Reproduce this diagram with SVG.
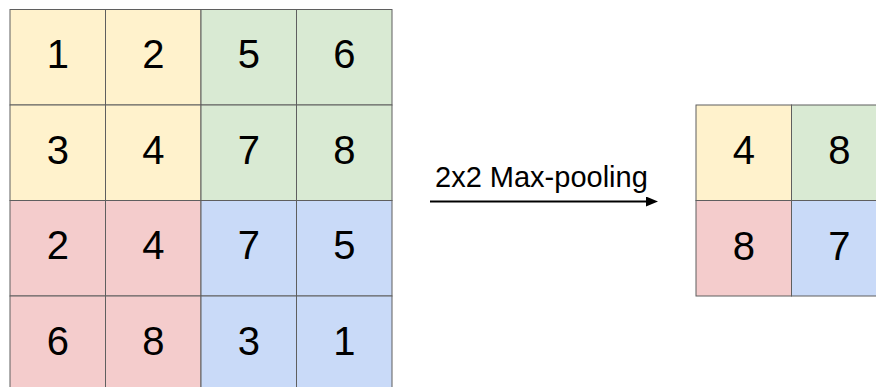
<svg xmlns="http://www.w3.org/2000/svg" width="876" height="387" viewBox="0 0 876 387">
<defs>
<style>
.c{stroke:#5f5f5f;stroke-width:1}
.y{fill:#fff2cc}.g{fill:#d9ead3}.r{fill:#f4cccc}.b{fill:#c9daf8}
.t{font-family:"Liberation Sans",Arial,sans-serif;font-size:40px;fill:#000;text-anchor:middle}
.lbl{font-family:"Liberation Sans",Arial,sans-serif;font-size:29px;fill:#000}
</style>
<marker id="ah" markerWidth="12" markerHeight="10" refX="0" refY="5" orient="auto" markerUnits="userSpaceOnUse">
<polygon points="0,0 12,5 0,10" fill="#000"/>
</marker>
</defs>
<rect width="876" height="387" fill="#fff"/>
<g id="input-grid">
<g id="cell-1"><rect class="c y" x="10" y="9.5" width="95.5" height="95.5"/><text class="t" x="57.75" y="68">1</text></g>
<g id="cell-2"><rect class="c y" x="105.5" y="9.5" width="95.5" height="95.5"/><text class="t" x="153.25" y="68">2</text></g>
<g id="cell-5"><rect class="c g" x="201" y="9.5" width="95.5" height="95.5"/><text class="t" x="248.75" y="68">5</text></g>
<g id="cell-6"><rect class="c g" x="296.5" y="9.5" width="95.5" height="95.5"/><text class="t" x="344.25" y="68">6</text></g>
<g id="cell-3"><rect class="c y" x="10" y="105" width="95.5" height="95.5"/><text class="t" x="57.75" y="163.5">3</text></g>
<g id="cell-4"><rect class="c y" x="105.5" y="105" width="95.5" height="95.5"/><text class="t" x="153.25" y="163.5">4</text></g>
<g id="cell-7"><rect class="c g" x="201" y="105" width="95.5" height="95.5"/><text class="t" x="248.75" y="163.5">7</text></g>
<g id="cell-8"><rect class="c g" x="296.5" y="105" width="95.5" height="95.5"/><text class="t" x="344.25" y="163.5">8</text></g>
<g id="cell-2b"><rect class="c r" x="10" y="200.5" width="95.5" height="95.5"/><text class="t" x="57.75" y="259">2</text></g>
<g id="cell-4b"><rect class="c r" x="105.5" y="200.5" width="95.5" height="95.5"/><text class="t" x="153.25" y="259">4</text></g>
<g id="cell-7b"><rect class="c b" x="201" y="200.5" width="95.5" height="95.5"/><text class="t" x="248.75" y="259">7</text></g>
<g id="cell-5b"><rect class="c b" x="296.5" y="200.5" width="95.5" height="95.5"/><text class="t" x="344.25" y="259">5</text></g>
<g id="cell-6b"><rect class="c r" x="10" y="296" width="95.5" height="95.5"/><text class="t" x="57.75" y="354.5">6</text></g>
<g id="cell-8b"><rect class="c r" x="105.5" y="296" width="95.5" height="95.5"/><text class="t" x="153.25" y="354.5">8</text></g>
<g id="cell-3b"><rect class="c b" x="201" y="296" width="95.5" height="95.5"/><text class="t" x="248.75" y="354.5">3</text></g>
<g id="cell-1b"><rect class="c b" x="296.5" y="296" width="95.5" height="95.5"/><text class="t" x="344.25" y="354.5">1</text></g>
</g>
<g id="output-grid">
<g id="out-4"><rect class="c y" x="696" y="105" width="95.5" height="95.5"/><text class="t" x="743.75" y="164">4</text></g>
<g id="out-8"><rect class="c g" x="791.5" y="105" width="95.5" height="95.5"/><text class="t" x="839.25" y="164">8</text></g>
<g id="out-8b"><rect class="c r" x="696" y="200.5" width="95.5" height="95.5"/><text class="t" x="743.75" y="259.5">8</text></g>
<g id="out-7"><rect class="c b" x="791.5" y="200.5" width="95.5" height="95.5"/><text class="t" x="839.25" y="259.5">7</text></g>
</g>
<g id="connectors">
<line x1="430" y1="201.5" x2="646" y2="201.5" stroke="#000" stroke-width="2" marker-end="url(#ah)"/>
<text class="lbl" x="435" y="187">2x2 Max-pooling</text>
</g>
</svg>
